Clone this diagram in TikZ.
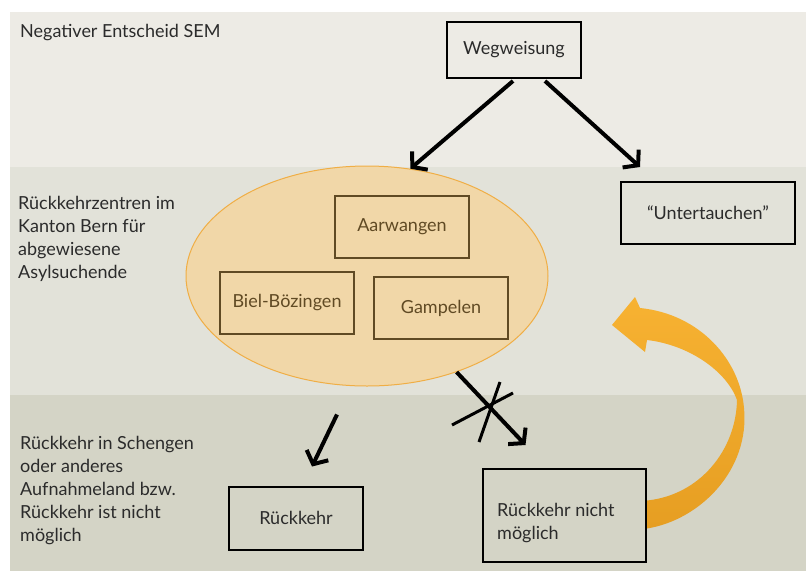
\documentclass[tikz,border=0pt]{standalone}
\usepackage{fontspec}
\setmainfont{Lato}
\usetikzlibrary{arrows.meta,shapes.geometric,calc}
\definecolor{bgtop}{HTML}{EDEBE5}
\definecolor{bgmid}{HTML}{E2E2D9}
\definecolor{bgbot}{HTML}{D4D4C6}
\definecolor{txt}{HTML}{2B2B2B}
\definecolor{ellfill}{HTML}{F1D7A8}
\definecolor{elldraw}{HTML}{F0AE45}
\definecolor{brown}{HTML}{604A24}
\definecolor{orlight}{HTML}{F7B232}
\definecolor{ordark}{HTML}{E69E22}
\begin{document}
\begin{tikzpicture}[x=1pt,y=-1pt,
  every node/.style={font=\fontsize{18}{23}\selectfont, text=txt},
  bx/.style={draw=black, line width=2pt, inner sep=0pt},
  ibx/.style={draw=brown, line width=2pt, inner sep=0pt, text=brown, minimum width=134pt, minimum height=62pt},
  lbl/.style={anchor=west, align=left, inner sep=0pt},
  arr/.style={line width=4pt, -{Straight Barb[length=10pt,width=24pt]}}
]
\useasboundingbox (0,0) rectangle (806,571);
\fill[white] (0,0) rectangle (806,571);
\fill[bgtop] (10,12) rectangle (806,167);
\fill[bgmid] (10,167) rectangle (806,395);
\fill[bgbot] (10,395) rectangle (806,571);

% band labels
\node[lbl] (l1) at (20,33) {Negativer Entscheid SEM};
\node[lbl] (l2) at (18,239) {Rückkehrzentren im\\Kanton Bern für\\abgewiesene\\Asylsuchende};
\node[lbl] (l3) at (20,491) {Rückkehr in Schengen\\oder anderes\\Aufnahmeland bzw.\\Rückkehr ist nicht\\möglich};

% top box
\node[bx, minimum width=134pt, minimum height=56pt] (weg) at (514,50) {Wegweisung};
\node[bx, minimum width=174pt, minimum height=62pt] (unt) at (708,213) {“Untertauchen”};

% ellipse
\node[ellipse, draw=elldraw, line width=1pt, fill=ellfill, minimum width=362pt, minimum height=220pt] (ell) at (367,276) {};
\node[ibx] (aar) at (402,227) {Aarwangen};
\node[ibx] (biel) at (287,303) {Biel-Bözingen};
\node[ibx] (gam) at (441,308) {Gampelen};

% bottom boxes
\node[bx, minimum width=134pt, minimum height=63pt] (rk) at (296,518) {Rückkehr};
\node[bx, minimum width=163pt, minimum height=93pt] (rnm) at (564.5,515.5) {};
\node[lbl] (rnmt) at ([xshift=15pt,yshift=-8pt]rnm.west) {Rückkehr nicht\\möglich};

% connectors
\coordinate (a1s) at ([xshift=-1pt,yshift=-2pt]weg.south);
\coordinate (a2s) at ([xshift=31pt,yshift=-2pt]weg.south);
\coordinate (a2e) at ([xshift=-68pt,yshift=14pt]unt.north);
\draw[arr] (a1s) -- (ell.68);
\draw[arr] (a2s) -- (a2e);

\coordinate (a3s) at ([xshift=-30pt,yshift=-28pt]ell.south);
\coordinate (a3e) at ([xshift=16pt,yshift=19pt]rk.north);
\draw[arr] (a3s) -- (a3e);

\coordinate (a4s) at (ell.-47.5);
\coordinate (a4e) at ([xshift=-39pt,yshift=23pt]rnm.north);
\draw[arr] (a4s) -- (a4e);
\coordinate (x1a) at (452,425);
\coordinate (x1b) at (513,393);
\coordinate (x2a) at (479,442);
\coordinate (x2b) at (500,382);
\draw[line width=3pt] (x1a) -- (x1b);
\draw[line width=3pt] (x2a) -- (x2b);

% orange ribbon arrow
\shade[top color=orlight, bottom color=ordark]
  ([yshift=-13pt]rnm.east) .. controls (700,520) and (750,470) .. (744,408)
  .. controls (740,360) and (700,314) .. (640,308)
  -- (635,297) -- (612,325) -- (645,352) -- (647,340)
  .. controls (690,345) and (727,372) .. (737,400)
  .. controls (736,450) and (700,495) .. ([yshift=15pt]rnm.east) -- cycle;
\end{tikzpicture}
\end{document}
